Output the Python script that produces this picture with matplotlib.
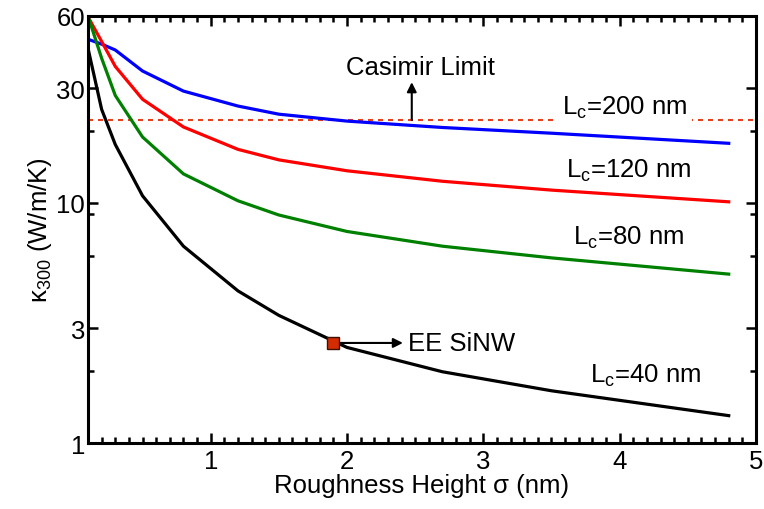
import matplotlib
matplotlib.use("Agg")
import matplotlib.pyplot as plt
from matplotlib.ticker import FixedLocator, MultipleLocator, NullFormatter

plt.rcParams['font.family'] = ['Liberation Sans', 'DejaVu Sans']
plt.rcParams['mathtext.fontset'] = 'custom'
plt.rcParams['mathtext.rm'] = 'Liberation Sans'
plt.rcParams['mathtext.it'] = 'Liberation Sans:italic'

# roughness height sigma (nm)
sigma = [0.1, 0.2, 0.3, 0.5, 0.8, 1.2, 1.5, 2.0, 2.7, 3.5, 4.8]

# kappa_300 (W/m/K) for each correlation length
k_lc40 = [44, 24.5, 17.5, 10.7, 6.6, 4.3, 3.4, 2.5, 1.98, 1.65, 1.30]
k_lc80 = [60, 40, 28, 18.8, 13.2, 10.2, 8.9, 7.6, 6.6, 5.9, 5.05]
k_lc120 = [59.5, 47, 37, 27, 20.7, 16.7, 15.1, 13.6, 12.3, 11.3, 10.1]
k_lc200 = [48, 45.8, 43.3, 35.4, 29.2, 25.3, 23.4, 21.9, 20.6, 19.5, 17.7]

casimir = 22.1
ee_sinw = (1.895, 2.61)

fig = plt.figure(figsize=(7.64, 5.10), dpi=100)
ax = fig.add_axes([0.1152, 0.1294, 0.8743, 0.8373])

ax.axhline(casimir, color='#e8401c', lw=1.5, linestyle=(0, (2.4, 2.4)), zorder=1)

ax.plot(sigma, k_lc200, color='#0000ff', lw=2.3, zorder=2)
ax.plot(sigma, k_lc120, color='#ff0000', lw=2.3, zorder=2)
ax.plot(sigma, k_lc80, color='#008000', lw=2.3, zorder=2)
ax.plot(sigma, k_lc40, color='black', lw=2.3, zorder=2)

ax.plot(*ee_sinw, marker='s', markersize=8.5, markerfacecolor='#d42c00',
        markeredgecolor='#401000', markeredgewidth=1.0, zorder=4)

fs = 18.5
lbl_box = dict(facecolor='white', edgecolor='none', pad=3)
ax.text(3.58, 23.4, r'$\mathregular{L_c}$=200 nm', fontsize=fs, ha='left', va='baseline', bbox=lbl_box, zorder=3)
ax.text(3.61, 12.8, r'$\mathregular{L_c}$=120 nm', fontsize=fs, ha='left', va='baseline', zorder=3)
ax.text(3.66, 6.74, r'$\mathregular{L_c}$=80 nm', fontsize=fs, ha='left', va='baseline', zorder=3)
ax.text(3.78, 1.80, r'$\mathregular{L_c}$=40 nm', fontsize=fs, ha='left', va='baseline', zorder=3)

ax.annotate('', xy=(2.475, 31.8), xytext=(2.475, casimir),
            arrowprops=dict(arrowstyle='-|>', color='black', lw=1.5, mutation_scale=14, shrinkA=0, shrinkB=0))
ax.text(2.54, 34.4, 'Casimir Limit', fontsize=fs, ha='center', va='baseline')

ax.annotate('', xy=(2.41, ee_sinw[1]), xytext=(ee_sinw[0] + 0.05, ee_sinw[1]),
            arrowprops=dict(arrowstyle='-|>', color='black', lw=1.5, mutation_scale=14, shrinkA=0, shrinkB=0))
ax.text(2.446, ee_sinw[1], 'EE SiNW', fontsize=fs, ha='left', va='center')

ax.set_yscale('log')
ax.set_xlim(0.1, 5)
ax.set_ylim(1, 60)

ax.xaxis.set_major_locator(FixedLocator([1, 2, 3, 4, 5]))
ax.xaxis.set_minor_locator(MultipleLocator(0.1))
ax.yaxis.set_major_locator(FixedLocator([1, 3, 10, 30, 60]))
ax.yaxis.set_minor_locator(FixedLocator([2, 6, 9, 20]))
ax.yaxis.set_minor_formatter(NullFormatter())
ax.set_yticklabels(['1', '3', '10', '30', '60'])

ax.tick_params(which='both', direction='in', top=True, right=True, width=1.8, labelsize=fs)
ax.tick_params(which='major', length=7)
ax.tick_params(which='minor', length=4)
ax.tick_params(axis='y', pad=2)
ax.tick_params(axis='x', pad=4)
for sp in ax.spines.values():
    sp.set_linewidth(2.2)

ax.set_xlabel('Roughness Height σ (nm)', fontsize=fs, labelpad=0)
ax.set_ylabel(r'$\mathregular{κ_{300}}$ (W/m/K)', fontsize=fs, labelpad=2)

fig.savefig('out.png', dpi=100)
